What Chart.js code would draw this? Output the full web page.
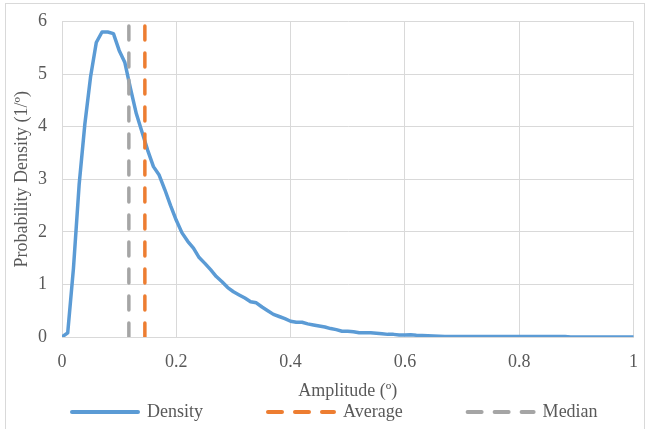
<!DOCTYPE html>
<html>
<head>
<meta charset="utf-8">
<script src="https://cdn.jsdelivr.net/npm/chart.js@4.4.1/dist/chart.umd.min.js"></script>
<style>
    html, body { margin: 0; padding: 0; background: #fff; overflow: hidden; }
    #wrap { position: relative; width: 647px; height: 429px; }
    #frame { position: absolute; left: 5px; top: 3px; width: 640px; height: 440px; border: 1px solid #d9d9d9; box-sizing: border-box; }
    #chart { position: absolute; left: 0; top: 0; }
</style>
</head>
<body>
<div id="wrap">
    <div id="frame"></div>
    <canvas id="chart" width="647" height="429"></canvas>
</div>
<script>
// amplitude bins (deg)
const amplitude = [
    0.00, 0.01, 0.02, 0.03, 0.04, 0.05, 0.06, 0.07, 0.08, 0.09,
    0.10, 0.11, 0.12, 0.13, 0.14, 0.15, 0.16, 0.17, 0.18, 0.19,
    0.20, 0.21, 0.22, 0.23, 0.24, 0.25, 0.26, 0.27, 0.28, 0.29,
    0.30, 0.31, 0.32, 0.33, 0.34, 0.35, 0.36, 0.37, 0.38, 0.39,
    0.40, 0.41, 0.42, 0.43, 0.44, 0.45, 0.46, 0.47, 0.48, 0.49,
    0.50, 0.51, 0.52, 0.53, 0.54, 0.55, 0.56, 0.57, 0.58, 0.59,
    0.60, 0.61, 0.62, 0.63, 0.64, 0.65, 0.66, 0.67, 0.68, 0.69,
    0.70, 0.71, 0.72, 0.73, 0.74, 0.75, 0.76, 0.77, 0.78, 0.79,
    0.80, 0.81, 0.82, 0.83, 0.84, 0.85, 0.86, 0.87, 0.88, 0.89,
    0.90, 0.91, 0.92, 0.93, 0.94, 0.95, 0.96, 0.97, 0.98, 0.99,
    1.00
];

// probability density (1/deg)
const density = [
    0, 0.08, 1.3, 2.9, 4.05, 4.95, 5.6, 5.8, 5.8, 5.77,
    5.45, 5.22, 4.72, 4.25, 3.9, 3.55, 3.24, 3.08, 2.8, 2.5,
    2.22, 1.98, 1.82, 1.69, 1.51, 1.4, 1.28, 1.15, 1.05, 0.94,
    0.86, 0.8, 0.74, 0.67, 0.65, 0.57, 0.5, 0.43, 0.39, 0.35,
    0.3, 0.28, 0.28, 0.25, 0.23, 0.21, 0.19, 0.16, 0.14, 0.11,
    0.11, 0.1, 0.08, 0.08, 0.08, 0.07, 0.06, 0.05, 0.05, 0.04,
    0.04, 0.045, 0.035, 0.03, 0.025, 0.02, 0.015, 0.01, 0.01, 0.01,
    0.01, 0.01, 0.01, 0.01, 0.01, 0.01, 0.01, 0.01, 0.01, 0.01,
    0.01, 0.01, 0.01, 0.01, 0.01, 0.01, 0.01, 0.01, 0.01, 0,
    0, 0, 0, 0, 0, 0, 0, 0, 0, 0,
    0
];

const averageAmp = 0.145;
const medianAmp = 0.117;
const xTicks = [0, 0.2, 0.4, 0.6, 0.8, 1];
const yTicks = [0, 1, 2, 3, 4, 5, 6];

const serif = '"Liberation Serif", "Times New Roman", serif';
const textColor = '#595959';
const gridColor = '#d9d9d9';
const dash = [14, 13];

// Excel-like legend under the axis title (built-in legend pads too much vertically)
const bottomLegend = {
    id: 'bottomLegend',
    afterDraw(chart) {
        const ctx = chart.ctx;
        const y = 412;
        let x = 70;
        ctx.save();
        ctx.font = '18px ' + serif;
        ctx.textBaseline = 'middle';
        ctx.fillStyle = textColor;
        chart.data.datasets.forEach((ds) => {
            ctx.beginPath();
            ctx.strokeStyle = ds.borderColor;
            ctx.lineWidth = 4;
            ctx.lineCap = 'round';
            ctx.setLineDash(ds.borderDash || []);
            ctx.moveTo(x + 2, y);
            ctx.lineTo(x + 68, y);
            ctx.stroke();
            ctx.setLineDash([]);
            ctx.fillText(ds.label, x + 77, y);
            x += 77 + ctx.measureText(ds.label).width + 63;
        });
        ctx.restore();
    }
};

new Chart(document.getElementById('chart'), {
    type: 'line',
    data: {
        datasets: [
            {
                label: 'Density',
                data: amplitude.map((a, i) => ({ x: a, y: density[i] })),
                borderColor: '#5b9bd5',
                borderWidth: 3.5,
                borderJoinStyle: 'round',
                borderCapStyle: 'round',
                pointRadius: 0,
                tension: 0,
                order: 3,
            },
            {
                label: 'Average',
                data: [{ x: averageAmp, y: yTicks[0] }, { x: averageAmp, y: yTicks[yTicks.length - 1] }],
                borderColor: '#ed7d31',
                borderWidth: 3.5,
                borderDash: dash,
                borderCapStyle: 'round',
                pointRadius: 0,
                order: 2,
            },
            {
                label: 'Median',
                data: [{ x: medianAmp, y: yTicks[0] }, { x: medianAmp, y: yTicks[yTicks.length - 1] }],
                borderColor: '#a5a5a5',
                borderWidth: 3.5,
                borderDash: dash,
                borderCapStyle: 'round',
                pointRadius: 0,
                order: 1,
            },
        ],
    },
    options: {
        responsive: false,
        animation: false,
        layout: { padding: { left: 0, right: 13.5, top: 21.5, bottom: 27 } },
        plugins: {
            legend: { display: false },
            tooltip: { enabled: false },
        },
        scales: {
            x: {
                type: 'linear',
                min: xTicks[0],
                max: xTicks[xTicks.length - 1],
                afterBuildTicks: (scale) => { scale.ticks = xTicks.map((v) => ({ value: v })); },
                afterFit: (scale) => {
                    scale.height = 65;
                    scale.paddingLeft = 0;
                    scale.paddingRight = 0;
                },
                grid: { color: gridColor, drawTicks: false },
                border: { color: gridColor },
                ticks: {
                    color: textColor,
                    font: { family: serif, size: 18 },
                    padding: 14,
                    maxRotation: 0,
                    callback: (v) => String(v),
                },
                title: {
                    display: true,
                    text: 'Amplitude (º)',
                    color: textColor,
                    font: { family: serif, size: 18 },
                    padding: 0,
                },
            },
            y: {
                min: yTicks[0],
                max: yTicks[yTicks.length - 1],
                afterBuildTicks: (scale) => { scale.ticks = yTicks.map((v) => ({ value: v })); },
                afterFit: (scale) => {
                    scale.width = 62;
                    scale.paddingTop = 0;
                    scale.paddingBottom = 0;
                },
                grid: { color: gridColor, drawTicks: false },
                border: { color: gridColor },
                ticks: { color: textColor, font: { family: serif, size: 18 }, padding: 15 },
                title: {
                    display: true,
                    text: 'Probability Density (1/º)',
                    color: textColor,
                    font: { family: serif, size: 18 },
                    padding: { top: 11, bottom: 0 },
                },
            },
        },
    },
    plugins: [bottomLegend],
});
</script>
</body>
</html>
